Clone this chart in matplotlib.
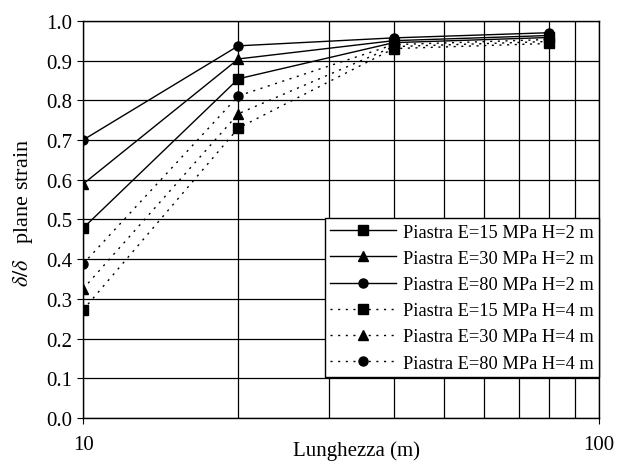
import matplotlib
matplotlib.use("Agg")
import matplotlib.pyplot as plt
from matplotlib.ticker import FixedLocator, FixedFormatter, NullFormatter

plt.rcParams['font.family'] = ['Liberation Serif', 'DejaVu Serif']
plt.rcParams['mathtext.fontset'] = 'stix'

lunghezza = [10, 20, 40, 80]

labels = [
    "Piastra E=15 MPa H=2 m",
    "Piastra E=30 MPa H=2 m",
    "Piastra E=80 MPa H=2 m",
    "Piastra E=15 MPa H=4 m",
    "Piastra E=30 MPa H=4 m",
    "Piastra E=80 MPa H=4 m",
]

e15_h2 = [0.478, 0.854, 0.945, 0.958]
e30_h2 = [0.589, 0.904, 0.950, 0.963]
e80_h2 = [0.700, 0.937, 0.957, 0.970]
e15_h4 = [0.272, 0.730, 0.930, 0.943]
e30_h4 = [0.325, 0.766, 0.935, 0.948]
e80_h4 = [0.388, 0.811, 0.940, 0.953]

series = [e15_h2, e30_h2, e80_h2, e15_h4, e30_h4, e80_h4]
markers = ['s', '^', 'o', 's', '^', 'o']
styles = ['-', '-', '-', (0, (1.5, 4)), (0, (1.5, 4)), (0, (1.5, 4))]

fig = plt.figure(figsize=(6.2, 4.64), dpi=100)
ax = fig.add_axes([0.134, 0.097, 0.832, 0.856])

for vals, m, ls, lab in zip(series, markers, styles, labels):
    ax.plot(lunghezza, vals, color='black', linestyle=ls, linewidth=1.0,
            marker=m, markersize=6.5, label=lab)

ax.set_xscale('log')
ax.set_xlim(10, 100)
ax.set_ylim(0, 1.0)
ax.xaxis.set_major_locator(FixedLocator([10, 100]))
ax.xaxis.set_minor_locator(FixedLocator([20, 30, 40, 50, 60, 70, 80, 90]))
ax.xaxis.set_major_formatter(FixedFormatter(['10', '100']))
ax.xaxis.set_minor_formatter(NullFormatter())
ax.set_yticks([i / 10 for i in range(11)])
ax.set_yticklabels([f"{i / 10:.1f}" for i in range(11)])

ax.grid(True, which='both', color='black', linewidth=0.9)
ax.tick_params(axis='both', labelsize=15, length=4, color='black')
ax.tick_params(axis='x', pad=8)
ax.tick_params(axis='x', which='minor', length=0)
for s in ax.spines.values():
    s.set_linewidth(1.0)

ax.set_xlabel('Lunghezza (m)', fontsize=15)
ax.xaxis.set_label_coords(0.531, -0.055)
ax.set_ylabel(r'$\delta/\delta$   plane strain', fontsize=16)
ax.yaxis.set_label_coords(-0.093, 0.52)

leg = ax.legend(loc='lower right', fontsize=13.2, frameon=True, fancybox=False,
                edgecolor='black', framealpha=1, handlelength=3.6,
                handletextpad=0.35, borderaxespad=0.0, labelspacing=0.5,
                borderpad=0.3, bbox_to_anchor=(1.0, 0.103))
leg.get_frame().set_linewidth(1.0)

fig.savefig('out.png', dpi=100)
